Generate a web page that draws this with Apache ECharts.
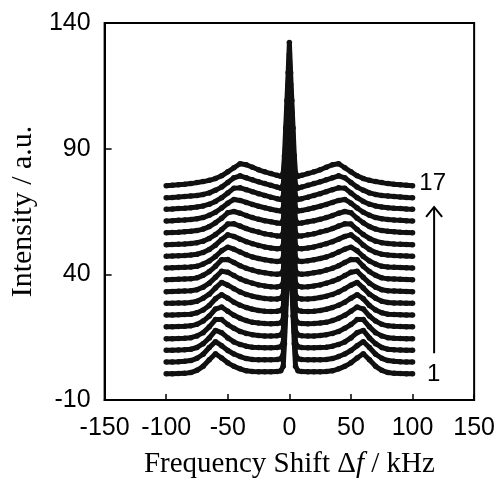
<!DOCTYPE html>
<html>
<head>
<meta charset="utf-8">
<script src="https://cdn.jsdelivr.net/npm/echarts@6/dist/echarts.min.js"></script>
<style>
  html, body { margin: 0; background: #fff; }
  #chart { width: 498px; height: 484px; }
</style>
</head>
<body>
<div id="chart"></div>
<script>
// frequency shift grid (kHz), denser around the central line
const freq = [-100, -95, -90, -85, -80, -75, -70, -65, -60, -55, -50, -45, -40, -35, -30, -25, -20, -15, -10, -7, -5, -4, -3, -2, -1,
  0, 1, 2, 3, 4, 5, 7, 10, 15, 20, 25, 30, 35, 40, 45, 50, 55, 60, 65, 70, 75, 80, 85, 90, 95, 100];

// vertical shift of each spectrum in the waterfall (spectrum 1 at bottom)
const offsets = [0.4, 5.1, 9.8, 14.4, 19.1, 23.8, 28.5, 33.1, 37.8, 42.5, 47.2, 51.8, 56.5, 61.2, 65.9, 70.5, 75.2];

// intensities of each spectrum above its own baseline
const s01 = [0, 0, 0.1, 0.2, 0.5, 1.4, 3.0, 5.6, 8.0, 6.3, 4.4, 3.0, 2.0, 1.2, 0.9, 0.8, 0.8, 0.8, 0.9, 1.2, 3, 12, 23, 34, 45,
  57, 45, 34, 23, 12, 3, 1.2, 0.9, 0.8, 0.8, 0.8, 0.9, 1.2, 2.0, 3.0, 4.4, 6.3, 8.0, 5.6, 3.0, 1.4, 0.5, 0.2, 0.1, 0, 0];
const s02 = [0, 0, 0.1, 0.3, 0.6, 1.5, 3.1, 5.8, 8.1, 6.5, 4.6, 3.2, 2.2, 1.4, 1.0, 0.9, 0.9, 0.9, 1.0, 1.3, 3, 12, 23, 34, 45,
  57, 45, 34, 23, 12, 3, 1.3, 1.0, 0.9, 0.9, 0.9, 1.0, 1.4, 2.2, 3.2, 4.6, 6.5, 8.1, 5.8, 3.1, 1.5, 0.6, 0.3, 0.1, 0, 0];
const s03 = [0, 0, 0.1, 0.2, 0.4, 1.1, 2.6, 4.9, 7.9, 7.0, 4.9, 3.3, 2.3, 1.6, 1.2, 1.1, 1.0, 1.0, 1.1, 1.4, 3, 12, 23, 34, 45,
  57, 45, 34, 23, 12, 3, 1.4, 1.1, 1.0, 1.0, 1.1, 1.2, 1.6, 2.3, 3.3, 4.9, 7.0, 7.9, 4.9, 2.6, 1.1, 0.4, 0.2, 0.1, 0, 0];
const s04 = [0, 0, 0.1, 0.2, 0.4, 1.1, 2.4, 4.7, 7.6, 7.6, 5.6, 4.1, 2.9, 2.1, 1.6, 1.3, 1.1, 1.1, 1.2, 1.5, 3, 12, 23, 34, 45,
  57, 45, 34, 23, 12, 3, 1.5, 1.2, 1.1, 1.1, 1.3, 1.6, 2.1, 2.9, 4.1, 5.6, 7.6, 7.6, 4.7, 2.4, 1.1, 0.4, 0.2, 0.1, 0, 0];
const s05 = [0, 0, 0.1, 0.2, 0.4, 1.0, 2.3, 4.3, 7.1, 7.9, 6.2, 4.6, 3.4, 2.5, 1.8, 1.5, 1.3, 1.2, 1.3, 1.6, 3, 12, 23, 34, 45,
  57, 45, 34, 23, 12, 3, 1.6, 1.3, 1.2, 1.3, 1.5, 1.8, 2.5, 3.4, 4.6, 6.2, 7.9, 7.1, 4.3, 2.3, 1.0, 0.4, 0.2, 0.1, 0, 0];
const s06 = [0, 0, 0.1, 0.2, 0.3, 0.9, 2.0, 3.8, 6.5, 8.1, 6.7, 5.1, 3.9, 3.0, 2.3, 1.8, 1.5, 1.4, 1.5, 1.8, 3, 12, 23, 34, 45,
  57, 45, 34, 23, 12, 3, 1.8, 1.5, 1.4, 1.5, 1.8, 2.3, 3.0, 3.9, 5.1, 6.7, 8.1, 6.5, 3.8, 2.0, 0.9, 0.3, 0.2, 0.1, 0, 0];
const s07 = [0, 0, 0.1, 0.1, 0.3, 0.8, 2.0, 3.6, 6.1, 8.3, 7.2, 5.8, 4.5, 3.5, 2.8, 2.3, 1.9, 1.7, 1.7, 2.0, 3.2, 12, 23, 34, 45,
  57, 45, 34, 23, 12, 3.2, 2.0, 1.7, 1.7, 1.9, 2.3, 2.8, 3.5, 4.5, 5.8, 7.2, 8.3, 6.1, 3.6, 2.0, 0.8, 0.3, 0.1, 0.1, 0, 0];
const s08 = [0, 0.1, 0.2, 0.3, 0.4, 0.8, 1.8, 3.4, 5.7, 8.1, 7.7, 6.4, 5.1, 4.1, 3.4, 2.7, 2.3, 2.0, 1.9, 2.2, 3.4, 12, 23, 34, 45,
  57, 45, 34, 23, 12, 3.4, 2.2, 1.9, 2.0, 2.3, 2.7, 3.4, 4.1, 5.1, 6.4, 7.7, 8.1, 5.7, 3.4, 1.8, 0.8, 0.4, 0.3, 0.2, 0.1, 0];
const s09 = [0, 0.1, 0.2, 0.3, 0.4, 0.8, 1.8, 3.3, 5.4, 8.0, 8.1, 6.9, 5.6, 4.6, 3.9, 3.2, 2.8, 2.4, 2.2, 2.4, 3.6, 12, 23, 34, 45,
  57, 45, 34, 23, 12, 3.6, 2.4, 2.2, 2.4, 2.8, 3.2, 3.9, 4.6, 5.6, 6.9, 8.1, 8.0, 5.4, 3.3, 1.8, 0.8, 0.4, 0.3, 0.2, 0.1, 0];
const s10 = [0, 0.1, 0.2, 0.3, 0.4, 0.7, 1.6, 2.8, 4.6, 6.9, 8.3, 7.5, 6.4, 5.3, 4.4, 3.8, 3.3, 2.9, 2.6, 2.8, 4.0, 12, 23, 34, 45,
  57, 45, 34, 23, 12, 4.0, 2.8, 2.6, 2.9, 3.3, 3.8, 4.4, 5.3, 6.4, 7.5, 8.3, 6.9, 4.6, 2.8, 1.6, 0.7, 0.4, 0.3, 0.2, 0.1, 0];
const s11 = [0, 0.1, 0.2, 0.3, 0.5, 0.8, 1.5, 2.7, 4.4, 6.7, 8.5, 7.9, 6.8, 5.8, 5.0, 4.3, 3.7, 3.3, 3.0, 3.1, 4.2, 12, 23, 34, 45,
  57, 45, 34, 23, 12, 4.2, 3.1, 3.0, 3.3, 3.7, 4.3, 5.0, 5.8, 6.8, 7.9, 8.5, 6.7, 4.4, 2.7, 1.5, 0.8, 0.5, 0.3, 0.2, 0.1, 0];
const s12 = [0, 0.1, 0.2, 0.3, 0.5, 0.8, 1.4, 2.5, 4.0, 6.0, 8.2, 8.3, 7.4, 6.4, 5.6, 5.0, 4.3, 3.9, 3.5, 3.5, 4.5, 12, 23, 34, 45,
  57, 45, 34, 23, 12, 4.5, 3.5, 3.5, 3.9, 4.3, 5.0, 5.6, 6.4, 7.4, 8.3, 8.2, 6.0, 4.0, 2.5, 1.4, 0.8, 0.5, 0.3, 0.2, 0.1, 0];
const s13 = [0, 0.1, 0.2, 0.4, 0.6, 0.9, 1.5, 2.5, 4.0, 5.8, 8.0, 8.5, 7.8, 6.9, 6.1, 5.4, 4.8, 4.4, 3.9, 3.8, 5, 12, 23, 34, 45,
  57, 45, 34, 23, 12, 5, 3.8, 3.9, 4.4, 4.8, 5.4, 6.1, 6.9, 7.8, 8.5, 8.0, 5.8, 4.0, 2.5, 1.5, 0.9, 0.6, 0.4, 0.2, 0.1, 0];
const s14 = [0, 0.1, 0.3, 0.4, 0.6, 0.9, 1.4, 2.3, 3.5, 5.2, 7.1, 8.6, 8.2, 7.4, 6.6, 5.9, 5.3, 4.7, 4.2, 4.0, 5, 12, 23, 34, 45,
  57, 45, 34, 23, 12, 5, 4.0, 4.2, 4.7, 5.3, 5.9, 6.6, 7.4, 8.2, 8.6, 7.1, 5.2, 3.5, 2.3, 1.4, 0.9, 0.6, 0.4, 0.3, 0.1, 0];
const s15 = [0, 0.1, 0.3, 0.4, 0.6, 0.9, 1.3, 2.0, 3.1, 4.6, 6.5, 8.4, 8.5, 7.8, 7.0, 6.2, 5.5, 4.8, 4.2, 3.9, 5, 12, 23, 34, 45,
  57, 45, 34, 23, 12, 5, 3.9, 4.2, 4.8, 5.5, 6.2, 7.0, 7.8, 8.5, 8.4, 6.5, 4.6, 3.1, 2.0, 1.3, 0.9, 0.6, 0.4, 0.3, 0.1, 0];
const s16 = [0, 0.1, 0.3, 0.5, 0.7, 0.9, 1.3, 1.9, 3.0, 4.2, 6.0, 7.9, 8.7, 7.9, 7.1, 6.3, 5.6, 4.9, 4.2, 3.8, 5, 12, 23, 34, 45,
  57, 45, 34, 23, 12, 5, 3.8, 4.2, 4.9, 5.6, 6.3, 7.1, 7.9, 8.7, 7.9, 6.0, 4.2, 3.0, 1.9, 1.3, 0.9, 0.7, 0.5, 0.3, 0.1, 0];
const s17 = [0, 0.2, 0.4, 0.6, 0.9, 1.3, 1.7, 2.2, 2.9, 4.0, 5.6, 7.2, 8.8, 8.4, 7.4, 6.4, 5.6, 4.9, 4.2, 3.8, 5, 12, 23, 34, 45,
  57, 45, 34, 23, 12, 5, 3.8, 4.2, 4.9, 5.6, 6.4, 7.4, 8.4, 8.8, 7.2, 5.6, 4.0, 2.9, 2.2, 1.7, 1.3, 0.9, 0.6, 0.4, 0.2, 0];

const spectra = [s01, s02, s03, s04, s05, s06, s07, s08, s09, s10, s11, s12, s13, s14, s15, s16, s17];

const yTicks = [-10, 40, 90, 140];

// arrow and run numbers on the right, in data units
const arrowFrom = [117.5, 8.6];
const arrowTo = [117.5, 66.8];
const runLabels = [
  { text: '17', at: [116.3, 76] },
  { text: '1', at: [117.2, 0.3] },
];

const chart = echarts.init(document.getElementById('chart'));

const series = spectra.map((s, k) => ({
  type: 'line',
  data: freq.map((f, i) => [f, +(offsets[k] + s[i]).toFixed(2)]),
  symbol: 'circle',
  symbolSize: 5.5,
  showSymbol: true,
  lineStyle: { color: '#111', width: 5 },
  itemStyle: { color: '#111' },
  silent: true,
  animation: false,
}));

chart.setOption({
  animation: false,
  grid: {
    left: 102, right: 22, top: 23, bottom: 84,
    show: true, borderColor: '#000', borderWidth: 2, backgroundColor: 'transparent',
  },
  xAxis: {
    type: 'value',
    min: -150, max: 150, interval: 50,
    axisLine: { show: true, onZero: false, lineStyle: { color: '#000', width: 2 } },
    axisTick: { inside: true, length: 6, lineStyle: { color: '#000', width: 1.5 } },
    axisLabel: { color: '#000', fontSize: 25, fontFamily: 'Liberation Sans', margin: 16 },
    splitLine: { show: false },
    name: '{a|Frequency Shift Δ}{i|f}{a| / kHz}',
    nameLocation: 'middle',
    nameGap: 50,
    nameTextStyle: {
      rich: {
        a: { fontFamily: 'Liberation Serif', fontSize: 29, color: '#000' },
        i: { fontFamily: 'Liberation Serif', fontSize: 29, fontStyle: 'italic', color: '#000' },
      },
    },
  },
  yAxis: {
    type: 'value',
    min: -10, max: 140,
    axisLine: { show: true, onZero: false, lineStyle: { color: '#000', width: 2 } },
    axisTick: { inside: true, length: 7, customValues: yTicks, lineStyle: { color: '#000', width: 1.5 } },
    axisLabel: { color: '#000', fontSize: 25, fontFamily: 'Liberation Sans', margin: 14, customValues: yTicks },
    splitLine: { show: false },
    name: 'Intensity / a.u.',
    nameLocation: 'middle',
    nameGap: 64,
    nameTextStyle: { fontFamily: 'Liberation Serif', fontSize: 30, color: '#000' },
  },
  series,
});

const p0 = chart.convertToPixel({ gridIndex: 0 }, arrowFrom);
const p1 = chart.convertToPixel({ gridIndex: 0 }, arrowTo);

const graphic = [
  {
    type: 'line',
    shape: { x1: p0[0], y1: p0[1], x2: p1[0], y2: p1[1] },
    style: { stroke: '#000', lineWidth: 2 },
  },
  {
    type: 'polyline',
    shape: { points: [[p1[0] - 8, p1[1] + 10], [p1[0], p1[1]], [p1[0] + 8, p1[1] + 10]] },
    style: { stroke: '#000', lineWidth: 2, fill: null },
  },
];

runLabels.forEach((l) => {
  const p = chart.convertToPixel({ gridIndex: 0 }, l.at);
  graphic.push({
    type: 'text',
    x: p[0], y: p[1],
    style: {
      text: l.text, fill: '#000', font: '24px "Liberation Sans"',
      align: 'center', verticalAlign: 'middle',
    },
  });
});

chart.setOption({ graphic });
</script>
</body>
</html>
